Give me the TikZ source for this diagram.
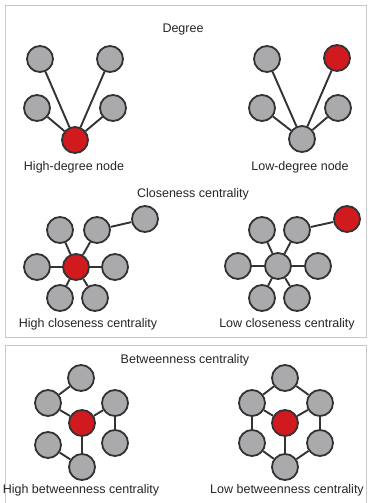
\documentclass[tikz,border=0pt]{standalone}
\usepackage{fontspec}
\setmainfont{Liberation Sans}
\definecolor{nodegray}{HTML}{AAAAAC}
\definecolor{nodered}{HTML}{D01A1E}
\definecolor{edgecol}{HTML}{333333}
\definecolor{panelcol}{HTML}{C8C8C8}
\tikzset{
  gnode/.style={circle, draw=edgecol, line width=1.8pt, fill=nodegray, minimum size=26pt, inner sep=0pt},
  rnode/.style={gnode, fill=nodered},
  edge/.style={draw=edgecol, line width=1.9pt},
  lbl/.style={font=\fontsize{12.5}{15}\selectfont, text=black!85, inner sep=0pt},
  panel/.style={draw=panelcol, line width=1pt, fill=white}
}
\begin{document}
\begin{tikzpicture}[x=1pt,y=-1pt]
\useasboundingbox (0,0) rectangle (370,503);
\fill[white] (0,0) rectangle (370,503);
\begin{scope}
\clip (0,0) rectangle (370,503);
\draw[panel] (5.5,6) rectangle (366.5,337);
\draw[panel] (5.5,345) rectangle (366.5,520);
\end{scope}

% ---------- Degree ----------
\node[lbl] (tdeg) at (183,29) {Degree};
\node[gnode] (a1) at (40,59) {};
\node[gnode] (a2) at (110,59) {};
\node[gnode] (a3) at (37,108) {};
\node[gnode] (a4) at (113,108) {};
\node[rnode] (a0) at (75,140) {};
\foreach \n in {a1,a2,a3,a4} \draw[edge] (a0) -- (\n);
\node[lbl] (la) at (74,167) {High-degree node};

\node[gnode] (b1) at (267,59) {};
\node[rnode] (b2) at (337,58) {};
\node[gnode] (b3) at (262,108) {};
\node[gnode] (b4) at (338,108) {};
\node[gnode] (b0) at (302,139) {};
\foreach \n in {b1,b2,b3,b4} \draw[edge] (b0) -- (\n);
\node[lbl] (lb) at (300,167) {Low-degree node};

% ---------- Closeness ----------
\node[lbl] (tclo) at (193,194) {Closeness centrality};
\node[rnode] (c0) at (76,267) {};
\node[gnode] (c1) at (60,230) {};
\node[gnode] (c2) at (97,230) {};
\node[gnode] (c3) at (145,219) {};
\node[gnode] (c4) at (37,267) {};
\node[gnode] (c5) at (115,267) {};
\node[gnode] (c6) at (60,298) {};
\node[gnode] (c7) at (95,298) {};
\foreach \n in {c1,c2,c4,c5,c6,c7} \draw[edge] (c0) -- (\n);
\draw[edge] (c2) -- (c3);
\node[lbl] (lc) at (88,324) {High closeness centrality};

\node[gnode] (d0) at (278,266) {};
\node[gnode] (d1) at (262,230) {};
\node[gnode] (d2) at (297,230) {};
\node[rnode] (d3) at (347,219) {};
\node[gnode] (d4) at (238,266) {};
\node[gnode] (d5) at (318,266) {};
\node[gnode] (d6) at (262,298) {};
\node[gnode] (d7) at (297,298) {};
\foreach \n in {d1,d2,d4,d5,d6,d7} \draw[edge] (d0) -- (\n);
\draw[edge] (d2) -- (d3);
\node[lbl] (ld) at (287,324) {Low closeness centrality};

% ---------- Betweenness ----------
\node[lbl] (tbet) at (185,360) {Betweenness centrality};
\node[rnode] (e0) at (82,423) {};
\node[gnode] (e1) at (81,378) {};
\node[gnode] (e2) at (48,403) {};
\node[gnode] (e3) at (115,403) {};
\node[gnode] (e4) at (48,445) {};
\node[gnode] (e5) at (115,443) {};
\node[gnode] (e6) at (82,467) {};
\draw[edge] (e1) -- (e2);
\draw[edge] (e2) -- (e0);
\draw[edge] (e0) -- (e3);
\draw[edge] (e3) -- (e5);
\draw[edge] (e0) -- (e6);
\draw[edge] (e6) -- (e4);
\node[lbl] (le) at (81,490) {High betweenness centrality};

\node[rnode] (f0) at (285,423) {};
\node[gnode] (f1) at (285,378) {};
\node[gnode] (f2) at (252,403) {};
\node[gnode] (f3) at (320,403) {};
\node[gnode] (f4) at (252,443) {};
\node[gnode] (f5) at (320,443) {};
\node[gnode] (f6) at (285,467) {};
\draw[edge] (f1) -- (f2);
\draw[edge] (f1) -- (f3);
\draw[edge] (f2) -- (f0);
\draw[edge] (f0) -- (f3);
\draw[edge] (f2) -- (f4);
\draw[edge] (f3) -- (f5);
\draw[edge] (f0) -- (f6);
\draw[edge] (f4) -- (f6);
\draw[edge] (f5) -- (f6);
\node[lbl] (lf) at (287,490) {Low betweenness centrality};
\end{tikzpicture}
\end{document}
